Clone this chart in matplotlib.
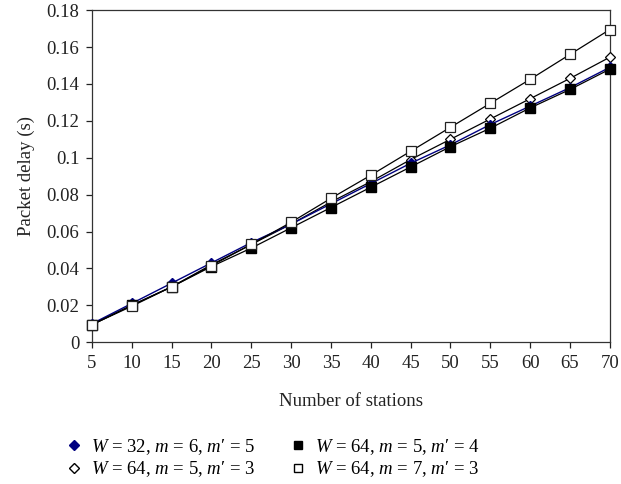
import numpy as np
import matplotlib
matplotlib.use('Agg')
import matplotlib.pyplot as plt
from matplotlib.lines import Line2D

plt.rcParams['font.family'] = 'Liberation Serif'
plt.rcParams['mathtext.fontset'] = 'custom'
plt.rcParams['mathtext.rm'] = 'Liberation Serif'
plt.rcParams['mathtext.it'] = 'Liberation Serif:italic'

stations = [5, 10, 15, 20, 25, 30, 35, 40, 45, 50, 55, 60, 65, 70]
w32_m6_m5 = [0.010, 0.021, 0.032, 0.043, 0.054, 0.064, 0.075, 0.086, 0.097, 0.107, 0.118, 0.128, 0.138, 0.149]
w64_m5_m4 = [0.0095, 0.020, 0.030, 0.041, 0.051, 0.062, 0.073, 0.084, 0.095, 0.106, 0.116, 0.127, 0.137, 0.148]
w64_m5_m3 = [0.0095, 0.020, 0.030, 0.042, 0.053, 0.064, 0.076, 0.087, 0.099, 0.110, 0.121, 0.132, 0.143, 0.1545]
w64_m7_m3 = [0.0095, 0.0195, 0.030, 0.0415, 0.053, 0.065, 0.078, 0.0905, 0.1035, 0.1165, 0.1295, 0.1425, 0.156, 0.1695]

labels = ['$W$ = 32, $m$ = 6, $m$\u2032 = 5',
          '$W$ = 64, $m$ = 5, $m$\u2032 = 4',
          '$W$ = 64, $m$ = 5, $m$\u2032 = 3',
          '$W$ = 64, $m$ = 7, $m$\u2032 = 3']

fig = plt.figure(figsize=(6.21, 4.84), dpi=100)
ax = fig.add_axes([0.148, 0.293, 0.834, 0.686])

ax.plot(stations, w64_m5_m3, color='black', lw=0.9, marker='D', ms=5.5,
        mfc='white', mec='black', mew=0.9, zorder=3, clip_on=False)
ax.plot(stations, w32_m6_m5, color='#000080', lw=1.0, marker='D', ms=5.5,
        mfc='#000080', mec='#000080', zorder=4, clip_on=False)
ax.plot(stations, w64_m5_m4, color='black', lw=0.9, marker='s', ms=7,
        mfc='black', mec='black', zorder=5, clip_on=False)
ax.plot(stations, w64_m7_m3, color='black', lw=0.9, marker='s', ms=7.5,
        mfc='white', mec='#222222', mew=0.9, zorder=6, clip_on=False)

ax.set_xlim(5, 70)
ax.set_ylim(0, 0.18)
ax.set_xticks(stations)
ax.set_yticks(np.arange(0, 0.181, 0.02))
ax.set_yticklabels(['0', '0.02', '0.04', '0.06', '0.08', '0.1', '0.12', '0.14', '0.16', '0.18'])
ax.tick_params(direction='out', length=4, width=0.9, labelsize=13.5, colors='#222222', pad=5)
for s in ax.spines.values():
    s.set_linewidth(0.9)
    s.set_color('#333333')
ax.set_xlabel('Number of stations', fontsize=13.5, color='#222222', labelpad=15)
ax.set_ylabel('Packet delay (s)', fontsize=13.5, color='#222222', labelpad=8)

handles = [Line2D([0], [0], ls='none', marker='D', ms=5, mfc='#000080', mec='#000080'),
           Line2D([0], [0], ls='none', marker='s', ms=6, mfc='black', mec='black'),
           Line2D([0], [0], ls='none', marker='D', ms=5, mfc='white', mec='black'),
           Line2D([0], [0], ls='none', marker='s', ms=6, mfc='white', mec='black')]
order = [0, 2, 1, 3]
fig.legend([handles[i] for i in order], [labels[i] for i in order],
           loc='lower center', ncol=2, frameon=False, fontsize=13.5,
           bbox_to_anchor=(0.44, -0.025), handlelength=0.8, handletextpad=0.5,
           columnspacing=1.9, labelspacing=0.15)

fig.savefig('out.png', dpi=100)
